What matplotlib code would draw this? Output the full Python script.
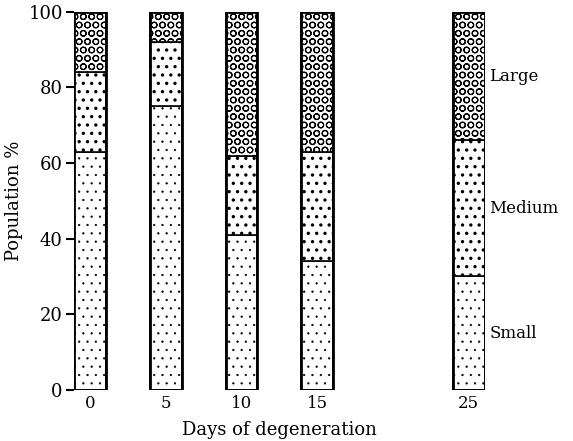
import numpy as np
import matplotlib
matplotlib.use('Agg')
import matplotlib.pyplot as plt

# dados
dias = [0, 5, 10, 15, 25]
pequeno = [63, 75, 41, 34, 30]
medio = [21, 17, 21, 29, 36]
grande = [16, 8, 38, 37, 34]
nomes = ['Small', 'Medium', 'Large']
hachuras = ['..', '..', 'OO']
espessuras = [0.4, 1.2, 0.8]

plt.rcParams['font.family'] = ['DejaVu Serif']
plt.rcParams['hatch.linewidth'] = 1.2

figura = plt.figure(figsize=(5.73, 4.41), dpi=100)
ax = figura.add_axes([0.129, 0.116, 0.717, 0.857])

base = np.zeros(len(dias))
for valores, hachura, esp in zip([pequeno, medio, grande], hachuras, espessuras):
    barras = ax.bar(dias, valores, bottom=base, width=2.1, color='white',
                    edgecolor='black', linewidth=1.2, hatch=hachura)
    for b in barras:
        if hasattr(b, 'set_hatch_linewidth'):
            b.set_hatch_linewidth(esp)
    base = base + np.array(valores)

# contorno grosso de cada barra
ax.bar(dias, base, width=2.1, fill=False, edgecolor='black', linewidth=2)

# rotulos ao lado da ultima barra
inicio = 0
for valores, nome in zip([pequeno, medio, grande], nomes):
    meio = inicio + valores[-1] / 2
    ax.text(dias[-1] + 1.35, meio, nome, fontsize=12, va='center', ha='left')
    inicio += valores[-1]

for lado in ['top', 'right', 'bottom', 'left']:
    ax.spines[lado].set_visible(False)

ax.set_xlim(-1.05, 26.05)
ax.set_ylim(0, 100)
ax.set_yticks([0, 20, 40, 60, 80, 100])
ax.set_xticks(dias)
ax.tick_params(axis='y', length=6, width=1.5, labelsize=13, pad=2)
ax.tick_params(axis='x', length=0, labelsize=12, pad=4)
ax.set_xlabel('Days of degeneration', fontsize=13, labelpad=6)
ax.set_ylabel('Population %', fontsize=13, labelpad=4)

figura.savefig('out.png', dpi=100)
